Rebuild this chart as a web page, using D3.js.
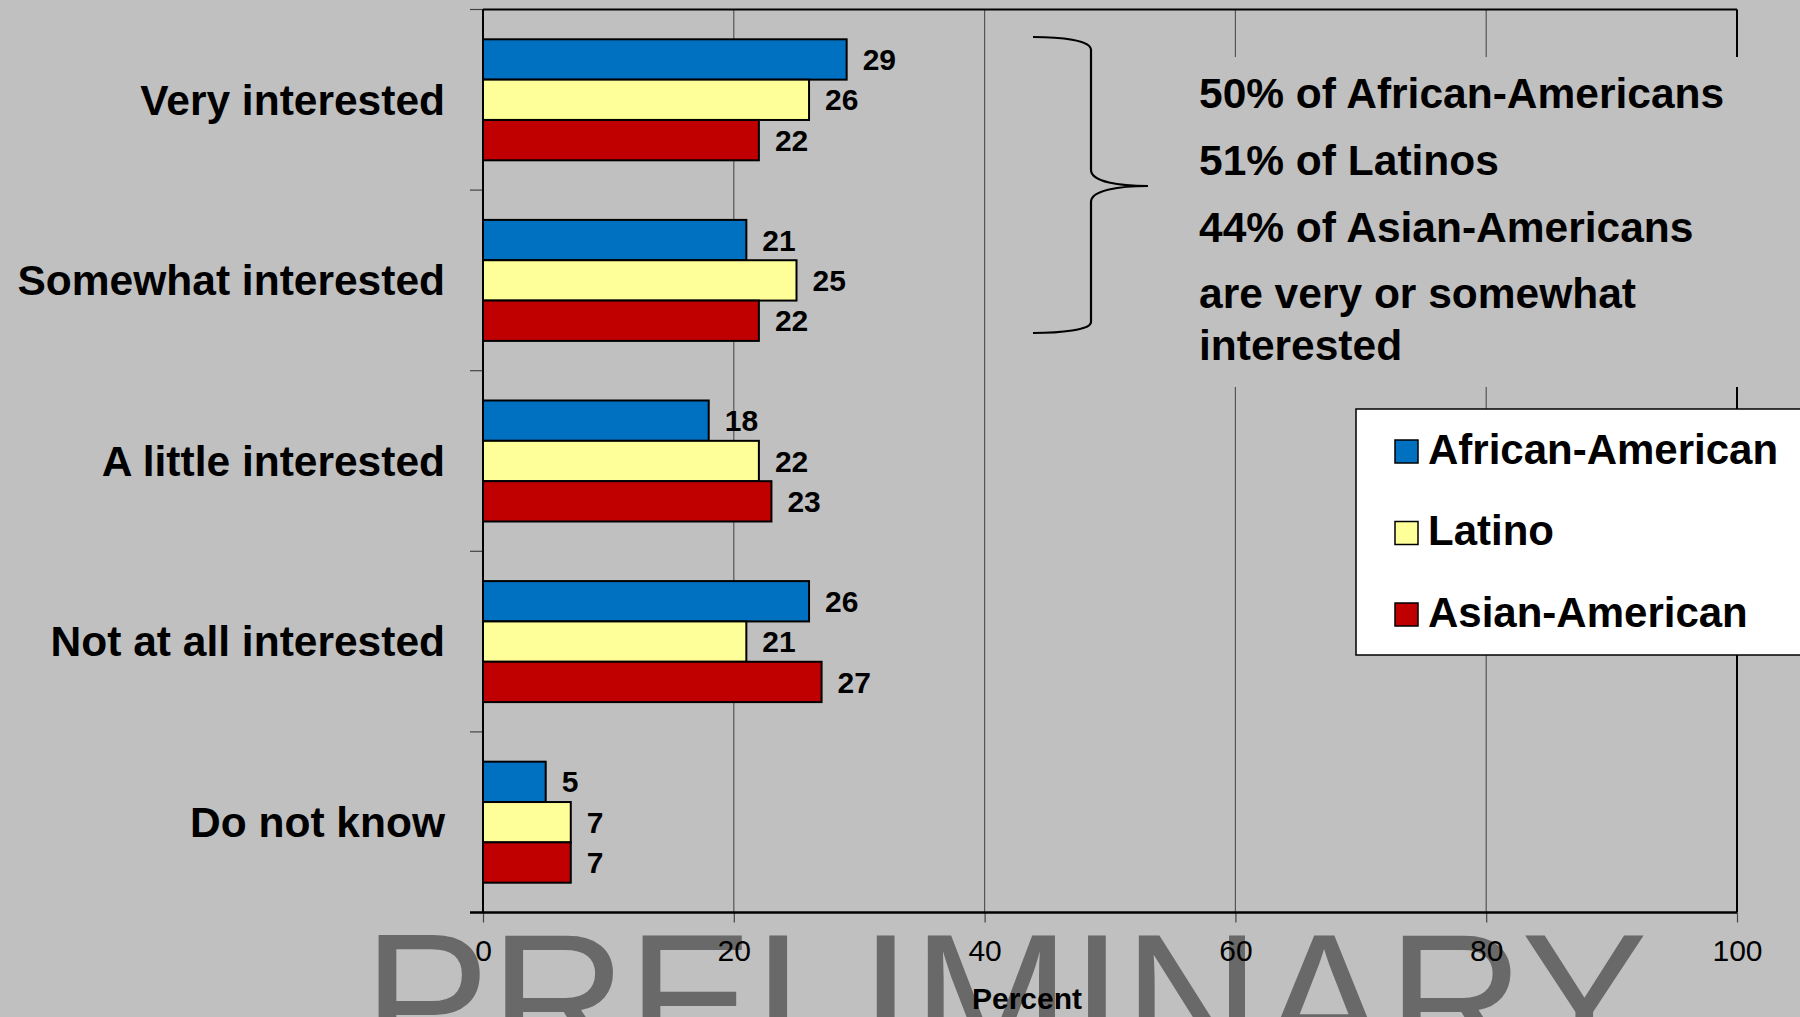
<!DOCTYPE html>
<html>
<head>
<meta charset="utf-8">
<script src="https://cdn.jsdelivr.net/npm/d3@7/dist/d3.min.js"></script>
<style>
  html, body { margin: 0; padding: 0; background: #c0c0c0; }
  svg { display: block; font-family: "Liberation Sans", Arial, sans-serif; }
</style>
</head>
<body>
<svg id="chart" width="1800" height="1017"></svg>
<script>
// Interest level by group (percent)
const categories = ["Very interested", "Somewhat interested", "A little interested", "Not at all interested", "Do not know"];
const seriesNames = ["African-American", "Latino", "Asian-American"];
const africanAmerican = [29, 21, 18, 26, 5];
const latino = [26, 25, 22, 21, 7];
const asianAmerican = [22, 22, 23, 27, 7];
const seriesColors = ["#0070c0", "#ffff99", "#c00000"];
const xTicks = [0, 20, 40, 60, 80, 100];
const noteLines = ["50% of African-Americans", "51% of Latinos", "44% of Asian-Americans", "are very or somewhat", "interested"];

const seriesValues = [africanAmerican, latino, asianAmerican];
const rows = categories.map((c, i) => ({
  category: c,
  values: seriesNames.map((s, j) => ({ series: s, value: seriesValues[j][i], color: seriesColors[j] }))
}));

const svg = d3.select("#chart");
const W = 1800, H = 1017;
const plot = { left: 483, right: 1737, top: 9.5, bottom: 912.5 };

svg.append("rect").attr("width", W).attr("height", H).attr("fill", "#c0c0c0");

const x = d3.scaleLinear().domain([0, 100]).range([plot.left, plot.right]);
const y = d3.scaleBand().domain(categories).range([plot.top, plot.bottom]).padding(0);
const ySub = d3.scaleBand().domain(seriesNames).range([y.bandwidth() * 0.165, y.bandwidth() * 0.835]).padding(0);

// watermark (behind everything else)
svg.append("text")
  .attr("x", 363).attr("y", 1066)
  .attr("font-size", 190)
  .attr("fill", "#696969")
  .text("PRELIMINARY");

// vertical gridlines
svg.append("g").selectAll("line")
  .data(xTicks.filter(t => t > 0 && t < 100))
  .join("line")
  .attr("x1", d => x(d)).attr("x2", d => x(d))
  .attr("y1", plot.top).attr("y2", plot.bottom)
  .attr("stroke", "#555").attr("stroke-width", 1.2);

// frame: top and right
svg.append("line").attr("x1", plot.left).attr("x2", plot.right).attr("y1", plot.top).attr("y2", plot.top)
  .attr("stroke", "#000").attr("stroke-width", 2);
svg.append("line").attr("x1", plot.right).attr("x2", plot.right).attr("y1", plot.top).attr("y2", plot.bottom)
  .attr("stroke", "#000").attr("stroke-width", 2);

// category boundary ticks on the left axis
const bounds = categories.map(c => y(c)).concat([plot.bottom]);
svg.append("g").selectAll("line")
  .data(bounds)
  .join("line")
  .attr("x1", plot.left - 13).attr("x2", plot.left)
  .attr("y1", d => d).attr("y2", d => d)
  .attr("stroke", "#444").attr("stroke-width", 1.2);

// bars
const groups = svg.append("g").selectAll("g")
  .data(rows)
  .join("g")
  .attr("transform", d => `translate(0,${y(d.category)})`);

groups.selectAll("rect")
  .data(d => d.values)
  .join("rect")
  .attr("x", x(0))
  .attr("y", d => ySub(d.series))
  .attr("width", d => x(d.value) - x(0))
  .attr("height", ySub.bandwidth())
  .attr("fill", d => d.color)
  .attr("stroke", "#000")
  .attr("stroke-width", 2);

groups.selectAll("text")
  .data(d => d.values)
  .join("text")
  .attr("x", d => x(d.value) + 16)
  .attr("y", d => ySub(d.series) + ySub.bandwidth() / 2 + 10.6)
  .attr("font-size", 30)
  .attr("font-weight", "bold")
  .attr("fill", "#000")
  .text(d => d.value);

// category labels
svg.append("g").selectAll("text")
  .data(categories)
  .join("text")
  .attr("x", 445)
  .attr("y", d => y(d) + y.bandwidth() / 2 + 14.8)
  .attr("text-anchor", "end")
  .attr("font-size", 42.5)
  .attr("font-weight", "bold")
  .attr("fill", "#000")
  .text(d => d);

// left axis line
svg.append("line").attr("x1", plot.left).attr("x2", plot.left).attr("y1", plot.top).attr("y2", plot.bottom)
  .attr("stroke", "#000").attr("stroke-width", 2);

// bottom axis
const xAxis = svg.append("g")
  .attr("transform", `translate(0,${plot.bottom})`)
  .call(d3.axisBottom(x).tickValues(xTicks).tickSize(10).tickPadding(17).tickFormat(d3.format("d")));
xAxis.select(".domain").remove();
xAxis.selectAll(".tick line").attr("stroke", "#444").attr("stroke-width", 1.2);
xAxis.selectAll(".tick text")
  .attr("font-family", "'Liberation Sans', Arial, sans-serif")
  .attr("font-size", 30)
  .attr("fill", "#000");
svg.append("line").attr("x1", plot.left - 13).attr("x2", plot.right).attr("y1", plot.bottom).attr("y2", plot.bottom)
  .attr("stroke", "#000").attr("stroke-width", 2.6);

// axis title
svg.append("text")
  .attr("x", 1027).attr("y", 1009)
  .attr("text-anchor", "middle")
  .attr("font-size", 30)
  .attr("font-weight", "bold")
  .attr("fill", "#000")
  .text("Percent");

// annotation box with brace
svg.append("rect")
  .attr("x", 1180).attr("y", 57).attr("width", 620).attr("height", 330)
  .attr("fill", "#c0c0c0");

svg.append("path")
  .attr("d", "M1033,37 C1060,37 1091,40 1091,50 L1091,170 C1091,182 1120,186 1148,186 C1120,186 1091,190 1091,202 L1091,322 C1091,330 1060,333 1033,333")
  .attr("fill", "none")
  .attr("stroke", "#000")
  .attr("stroke-width", 2.2);

const noteBaselines = [108, 175, 242, 308, 360];
svg.append("g").selectAll("text")
  .data(noteLines)
  .join("text")
  .attr("x", 1199)
  .attr("y", (d, i) => noteBaselines[i])
  .attr("font-size", 42.5)
  .attr("font-weight", "bold")
  .attr("fill", "#000")
  .text(d => d);

// legend
const legend = svg.append("g");
legend.append("rect")
  .attr("x", 1356).attr("y", 409).attr("width", 480).attr("height", 246)
  .attr("fill", "#fff").attr("stroke", "#000").attr("stroke-width", 1.5);
const items = legend.selectAll("g.item")
  .data(seriesNames)
  .join("g")
  .attr("class", "item")
  .attr("transform", (d, i) => `translate(0,${440 + i * 81.5})`);
items.append("rect")
  .attr("x", 1395).attr("y", 0).attr("width", 23).attr("height", 23)
  .attr("fill", (d, i) => seriesColors[i])
  .attr("stroke", "#000").attr("stroke-width", 1.5);
items.append("text")
  .attr("x", 1428).attr("y", 23.5)
  .attr("font-size", 42)
  .attr("font-weight", "bold")
  .attr("fill", "#000")
  .text(d => d);
</script>
</body>
</html>
